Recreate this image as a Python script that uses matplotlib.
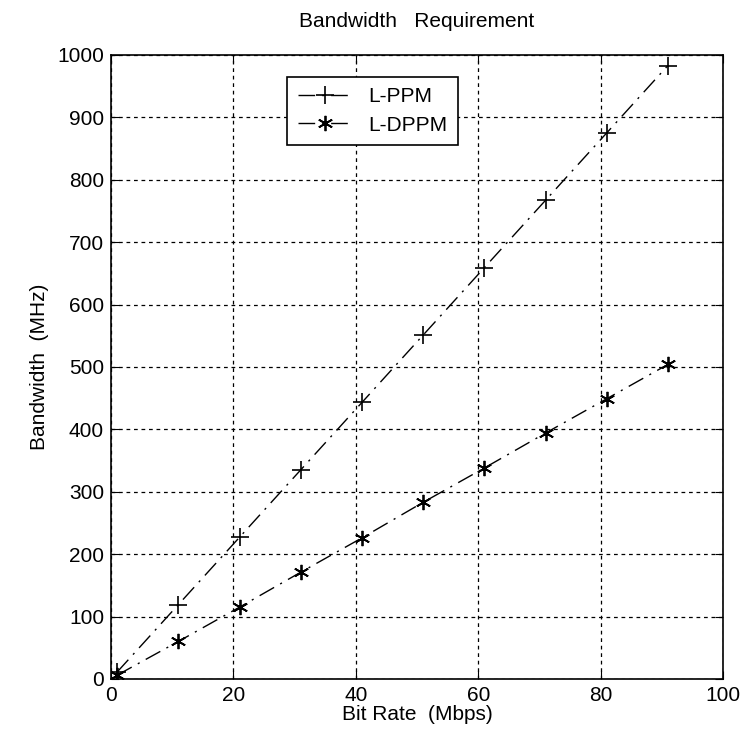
import matplotlib.pyplot as plt

plt.rcParams['font.family'] = ['Liberation Sans Narrow', 'Liberation Sans', 'DejaVu Sans']

# data
bit_rate = [1, 11, 21, 31, 41, 51, 61, 71, 81, 91]
bw_ppm = [11, 119, 227, 335, 443, 551, 659, 767, 875, 983]
bw_dppm = [6, 60, 115, 171, 226, 283, 338, 394, 449, 504]

fig = plt.figure(figsize=(7.5, 7.42), dpi=100)
ax = fig.add_axes([0.148, 0.085, 0.816, 0.841])

dash = (0, (12, 5, 1.5, 5))
ax.plot(bit_rate, bw_ppm, color='black', linestyle=dash, linewidth=1,
        marker='+', markersize=13, markeredgewidth=1.2, label='L-PPM')
ax.plot(bit_rate, bw_dppm, color='black', linestyle=dash, linewidth=1,
        marker=(6, 2, 0), markersize=11, markeredgewidth=1.3, label='L-DPPM')

ax.set_xlim(0, 100)
ax.set_ylim(0, 1000)
ax.set_xticks(range(0, 101, 20))
ax.set_yticks(range(0, 1001, 100))
ax.grid(True, color='black', linestyle=(0, (3, 3)), linewidth=0.9)
ax.tick_params(direction='in', top=True, right=True, labelsize=15, length=6, pad=5)
for s in ax.spines.values():
    s.set_linewidth(1.2)

ax.set_title('Bandwidth   Requirement', fontsize=15, pad=20)
ax.set_xlabel('Bit Rate  (Mbps)', fontsize=15, labelpad=0)
ax.set_ylabel('Bandwidth  (MHz)', fontsize=15, labelpad=6)

leg = ax.legend(loc='upper left', bbox_to_anchor=(0.288, 0.965), fontsize=15,
                fancybox=False, framealpha=1, edgecolor='black', handlelength=2.6,
                borderpad=0.5, labelspacing=0.45, borderaxespad=0, handletextpad=0.8)
leg.get_frame().set_linewidth(1.2)

fig.savefig('out.png', dpi=100)
